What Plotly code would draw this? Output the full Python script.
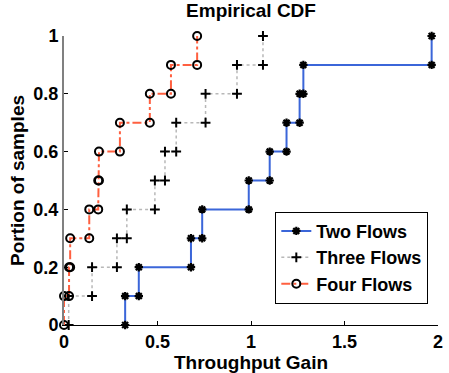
import plotly.graph_objects as go

# Sorted samples (x positions where the empirical CDF jumps by 0.1)
two_flows = [0.327, 0.40, 0.679, 0.739, 0.988, 1.10, 1.19, 1.26, 1.28, 1.966]
three_flows = [0.025, 0.15, 0.283, 0.336, 0.486, 0.54, 0.60, 0.757, 0.925, 1.064]
four_flows = [0.0, 0.027, 0.033, 0.135, 0.183, 0.187, 0.299, 0.459, 0.572, 0.712]

x_ticks = [0, 0.5, 1, 1.5, 2]
x_tick_labels = ["0", "0.5", "1", "1.5", "2"]
y_ticks = [0, 0.2, 0.4, 0.6, 0.8, 1]
y_tick_labels = ["0", "0.2", "0.4", "0.6", "0.8", "1"]


def stairs(samples):
    n = len(samples)
    xs, ys = [], []
    for i, v in enumerate(samples):
        xs += [v, v]
        ys += [i / n, (i + 1) / n]
    return xs, ys


FONT = "Liberation Sans, Arial, Helvetica, sans-serif"

fig = go.Figure()

x, y = stairs(two_flows)
fig.add_trace(go.Scatter(
    x=x, y=y, name="Two Flows", mode="lines+markers", cliponaxis=False,
    line=dict(color="#3b66d9", width=2),
    marker=dict(symbol="asterisk-open", size=7, line=dict(color="black", width=2.2), color="black"),
))
x, y = stairs(three_flows)
fig.add_trace(go.Scatter(
    x=x, y=y, name="Three Flows", mode="lines+markers", cliponaxis=False,
    line=dict(color="#b8b8b8", width=1.5, dash="dot"),
    marker=dict(symbol="cross-thin-open", size=7, line=dict(color="black", width=2), color="black"),
))
x, y = stairs(four_flows)
fig.add_trace(go.Scatter(
    x=x, y=y, name="Four Flows", mode="lines+markers", cliponaxis=False,
    line=dict(color="#ff6040", width=2, dash="dashdot"),
    marker=dict(symbol="circle-open", size=8, line=dict(color="black", width=2), color="black"),
))

fig.update_layout(
    width=449, height=373,
    margin=dict(l=64, r=6, t=36, b=47),
    paper_bgcolor="white", plot_bgcolor="white",
    font=dict(family=FONT, size=19, color="black", weight="bold"),
    title=dict(text="Empirical CDF", x=0.5, xanchor="center", xref="paper",
               y=0.99, yanchor="top", font=dict(size=19, weight="bold")),
    showlegend=True,
    legend=dict(x=0.565, y=0.392, xanchor="left", yanchor="top",
                bordercolor="black", borderwidth=1, bgcolor="white",
                font=dict(size=18, weight="bold"), itemwidth=30,
                tracegroupgap=0),
    xaxis=dict(range=[0, 2], tickvals=x_ticks, ticktext=x_tick_labels,
               showgrid=False, zeroline=False, showline=True, linecolor="black",
               linewidth=1.2, ticks="inside", ticklen=4, tickcolor="black",
               tickfont=dict(size=18, weight="bold"),
               title=dict(text="Throughput Gain", standoff=2, font=dict(size=19, weight="bold"))),
    yaxis=dict(range=[0, 1], tickvals=y_ticks, ticktext=y_tick_labels,
               showgrid=False, zeroline=False, showline=True, linecolor="#808080",
               linewidth=2, ticks="inside", ticklen=4, tickcolor="black",
               tickfont=dict(size=18, weight="bold"),
               title=dict(text="Portion of samples", standoff=4, font=dict(size=19, weight="bold"))),
)

fig.write_html("out.html")
